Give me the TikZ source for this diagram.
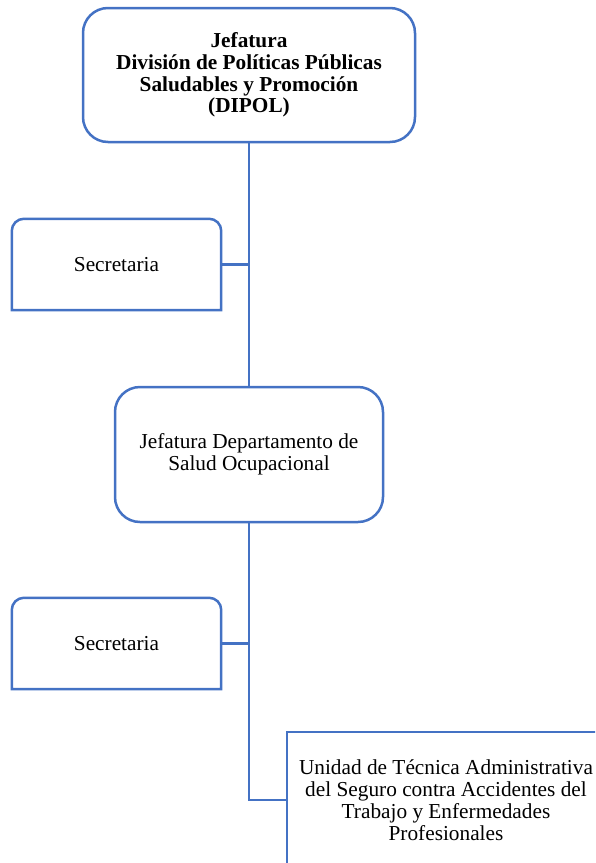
\documentclass[tikz,border=0pt]{standalone}
\usepackage{fontspec}
\setmainfont{Liberation Serif}
\usepackage{tikz}
\usetikzlibrary{positioning, calc}
\definecolor{orgblue}{RGB}{68,114,196}

\begin{document}
\begin{tikzpicture}[
    x=1pt, y=-1pt,
    head/.style={draw=orgblue, line width=2.5pt, rounded corners=25pt, align=center, inner sep=0pt, font=\fontsize{21.3}{21.7}\selectfont\bfseries},
    dept/.style={draw=orgblue, line width=2.5pt, rounded corners=25pt, align=center, inner sep=0pt, font=\fontsize{21.3}{21.5}\selectfont},
    sec/.style={align=center, inner sep=0pt, minimum width=209pt, minimum height=91pt, font=\fontsize{21.3}{22}\selectfont},
    unit/.style={draw=orgblue, line width=2.5pt, align=center, inner sep=0pt, font=\fontsize{21.3}{22}\selectfont},
    link/.style={draw=orgblue, line width=2.5pt}
]
    \useasboundingbox (0,0) rectangle (595,863);
    \clip (0,0) rectangle (595,863);

    % Boxes
    \node[head, minimum width=332pt, minimum height=134pt] (dipol) at (249,75) {Jefatura\\División de Políticas Públicas\\Saludables y Promoción\\(DIPOL)};
    \node[sec] (sec1) at (116.5,264.5) {Secretaria};
    \node[dept, minimum width=268pt, minimum height=135pt] (depto) at (249,454.5) {Jefatura Departamento de\\Salud Ocupacional};
    \node[sec] (sec2) at (116.5,643.5) {Secretaria};
    \node[unit, minimum width=318pt, minimum height=136pt] (unidad) at (446,800) {Unidad de Técnica Administrativa\\del Seguro contra Accidentes del\\Trabajo y Enfermedades\\Profesionales};

    % Secretaria outlines (top corners rounded)
    \foreach \s in {sec1, sec2}
        \draw[link, line join=miter] (\s.south east) -- (\s.south west) -- ([yshift=-12pt]\s.north west)
            arc[start angle=180, end angle=90, radius=12pt] -- ([xshift=-12pt]\s.north east)
            arc[start angle=90, end angle=0, radius=12pt] -- cycle;

    % Connectors
    \draw[link] (dipol.south) -- (depto.north);
    \draw[link] (sec1.east) -- (sec1.east -| depto.north);
    \draw[link] (depto.south) |- (unidad.west);
    \draw[link] (sec2.east) -- (sec2.east -| depto.south);
\end{tikzpicture}
\end{document}
